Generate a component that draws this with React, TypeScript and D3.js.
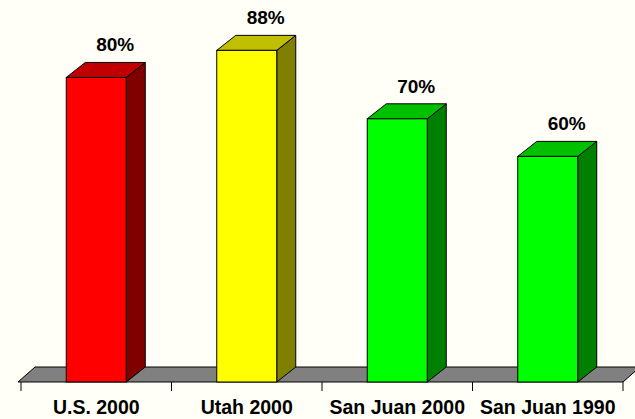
import React from "react";
import * as d3 from "d3";

const categories = ["U.S. 2000", "Utah 2000", "San Juan 2000", "San Juan 1990"];
const values = [81, 88.2, 70, 60];
const valueLabels = ["80%", "88%", "70%", "60%"];
const frontColors = ["#FF0000", "#FFFF00", "#00FF00", "#00FF00"];
const sideColors = ["#800000", "#808000", "#008000", "#008000"];
const topColors = ["#C00000", "#C0C000", "#00C000", "#00C000"];

const W = 635;
const H = 419;
const left = 21;
const right = 623;
const baseY = 382;
const DX = 19;
const DY = -15;
const FONT = "'Liberation Sans', Arial, sans-serif";

export default function App() {
  const x = d3.scaleBand<string>().domain(categories).range([left, right]).paddingInner(0).paddingOuter(0);
  const y = d3.scaleLinear().domain([0, 100]).range([baseY, 6]);
  const bw = 60;
  const ticks = [left, ...categories.map((c) => (x(c) as number) + x.bandwidth())];

  return (
    <svg width={W} height={H} style={{ position: "absolute", left: 0, top: 0, background: "#FFFFF7" }}>
      <rect x={0} y={0} width={W} height={H} fill="#FFFFF7" />
      <polygon
        points={`${left - 3},${baseY} ${right},${baseY} ${right + 17},${baseY - 15} ${left + 14},${baseY - 15}`}
        fill="#808080"
        stroke="#000"
        strokeWidth={1}
      />
      {ticks.map((t, i) => (
        <line key={i} x1={t} x2={t} y1={baseY} y2={baseY + 9} stroke="#000" strokeWidth={1} />
      ))}
      {categories.map((c, i) => {
        const cx = (x(c) as number) + x.bandwidth() / 2;
        const x0 = cx - bw / 2;
        const x1 = cx + bw / 2;
        const yt = y(values[i]);
        return (
          <g key={c}>
            <polygon
              points={`${x1},${baseY} ${x1 + DX},${baseY + DY} ${x1 + DX},${yt + DY} ${x1},${yt}`}
              fill={sideColors[i]}
              stroke="#000"
              strokeWidth={1}
            />
            <polygon
              points={`${x0},${yt} ${x1},${yt} ${x1 + DX},${yt + DY} ${x0 + DX},${yt + DY}`}
              fill={topColors[i]}
              stroke="#000"
              strokeWidth={1}
            />
            <rect x={x0} y={yt} width={bw} height={baseY - yt} fill={frontColors[i]} stroke="#000" strokeWidth={1} />
            <text
              x={cx + DX}
              y={yt + DY - 11}
              textAnchor="middle"
              fontFamily={FONT}
              fontWeight="bold"
              fontSize={19}
              fill="#000"
            >
              {valueLabels[i]}
            </text>
            <text x={cx} y={414} textAnchor="middle" fontFamily={FONT} fontWeight="bold" fontSize={19.5} fill="#000">
              {c}
            </text>
          </g>
        );
      })}
    </svg>
  );
}
